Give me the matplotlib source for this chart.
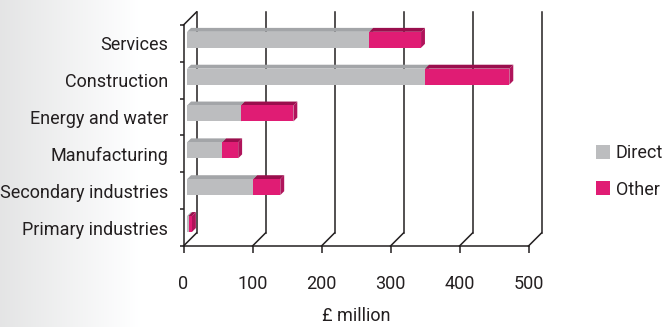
import numpy as np
import matplotlib
matplotlib.use('Agg')
import matplotlib.pyplot as plt
from matplotlib.patches import Polygon, Patch

plt.rcParams['font.family'] = ['Roboto', 'DejaVu Sans']

# Data (bottom to top)
categories = ['Primary industries', 'Secondary industries', 'Manufacturing',
              'Energy and water', 'Construction', 'Services']
direct = [2, 96, 51, 78, 345, 264]
other = [5, 39, 23, 76, 122, 75]
x_ticks = [0, 100, 200, 300, 400, 500]
series_names = ['Direct', 'Other']

# colours: front, top, side
grey_cols = ('#bcbdbf', '#a3a5a8', '#8f9194')
pink_cols = ('#e01c74', '#9a0e4d', '#b0145b')
line_col = '#231f20'
fs = 13

W, H = 662, 327
fig = plt.figure(figsize=(W / 100, H / 100), dpi=100)

# background gradient (light grey on the left fading to white)
bg = fig.add_axes([0, 0, 1, 1], zorder=-5)
xs = np.arange(W)
t = np.clip(xs / 140, 0, 1)
shade = 0.895 + (1 - 0.895) * t
grad = np.tile(shade, (2, 1))
bg.imshow(np.dstack([grad, grad * 1.002, grad * 1.004]).clip(0, 1),
          aspect='auto', extent=[0, 1, 0, 1])
bg.axis('off')

# front plane of the plot area, in pixels
left, right, top, bottom = 183.5, 528.5, 25, 246
ax = fig.add_axes([left / W, (H - bottom) / H, (right - left) / W, (bottom - top) / H])
ax.set_facecolor('none')
ax.set_xlim(0, 500)
ax.set_ylim(0, 6)

px_x = (right - left) / 500
px_y = (bottom - top) / 6
depth = 13
dx = depth / px_x
dy = depth / px_y

# back wall gridlines and floor diagonals
for v in x_ticks:
    ax.plot([v + dx, v + dx], [dy, 6 + dy], color=line_col, lw=1.1, clip_on=False, zorder=1)
    ax.plot([v, v + dx], [0, dy], color=line_col, lw=1.1, clip_on=False, zorder=1)
ax.plot([0, dx], [6, 6 + dy], color=line_col, lw=1.1, clip_on=False, zorder=1)

# 3D bars
f0, f1 = 0.28, 0.58
hh = 0.217


def draw_box(a, b, c, cols, z):
    x0, y0 = a + f0 * dx, c - hh + f0 * dy
    x1, y1 = b + f0 * dx, c + hh + f0 * dy
    ox, oy = (f1 - f0) * dx, (f1 - f0) * dy
    front = Polygon([(x0, y0), (x1, y0), (x1, y1), (x0, y1)], closed=True,
                    facecolor=cols[0], edgecolor='none', zorder=z + 0.2, clip_on=False)
    topf = Polygon([(x0, y1), (x1, y1), (x1 + ox, y1 + oy), (x0 + ox, y1 + oy)], closed=True,
                   facecolor=cols[1], edgecolor='none', zorder=z + 0.1, clip_on=False)
    side = Polygon([(x1, y0), (x1, y1), (x1 + ox, y1 + oy), (x1 + ox, y0 + oy)], closed=True,
                   facecolor=cols[2], edgecolor='none', zorder=z, clip_on=False)
    for p in (side, topf, front):
        ax.add_patch(p)


for i, cat in enumerate(categories):
    c = i + 0.5
    draw_box(0, direct[i], c, grey_cols, 3)
    draw_box(direct[i], direct[i] + other[i], c, pink_cols, 4)

# axes styling
for s in ('top', 'right'):
    ax.spines[s].set_visible(False)
for s in ('left', 'bottom'):
    ax.spines[s].set_color(line_col)
    ax.spines[s].set_linewidth(1.1)
    ax.spines[s].set_zorder(6)

ax.set_yticks(range(7))
ax.set_yticklabels([])
ax.set_yticks(np.arange(6) + 0.5, minor=True)
ax.set_yticklabels(categories, minor=True)
ax.tick_params(axis='y', which='major', length=3, width=1.1, color=line_col)
ax.tick_params(axis='y', which='minor', length=0, pad=11, labelsize=fs, labelcolor=line_col)

ax.set_xticks(x_ticks)
ax.set_xticklabels([str(v) for v in x_ticks])
ax.tick_params(axis='x', length=5, width=1.1, color=line_col, pad=16,
               labelsize=fs, labelcolor=line_col)
ax.set_xlabel('£ million', fontsize=fs, color=line_col, labelpad=10)

handles = [Patch(facecolor=grey_cols[0], edgecolor='none'),
           Patch(facecolor=pink_cols[0], edgecolor='none')]
fig.legend(handles, series_names, loc='center left', bbox_to_anchor=(596 / W, 1 - 171.5 / H),
           frameon=False, borderpad=0, borderaxespad=0, handlelength=0.8, handleheight=0.8,
           handletextpad=0.3, labelspacing=1.0, fontsize=fs, labelcolor=line_col)

fig.savefig('out.png', dpi=100)
